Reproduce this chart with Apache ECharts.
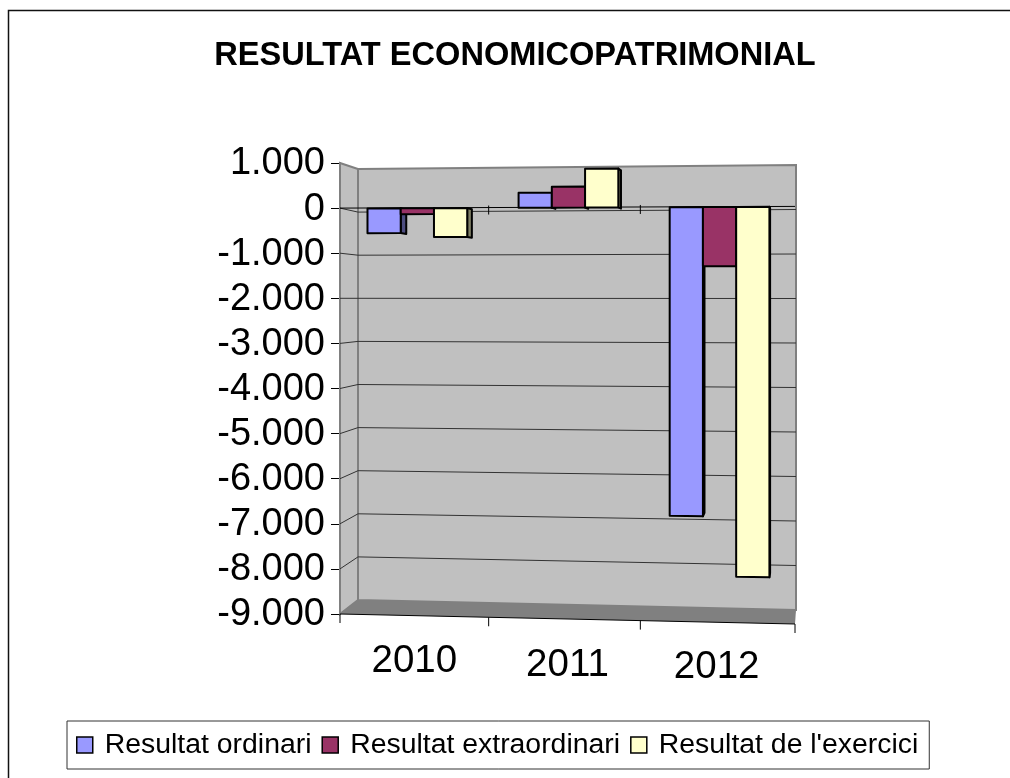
<!DOCTYPE html>
<html>
<head>
<meta charset="utf-8">
<title>Resultat economicopatrimonial</title>
<script src="https://cdn.jsdelivr.net/npm/echarts@6/dist/echarts.min.js"></script>
<style>
  html, body { margin: 0; padding: 0; background: #fff; }
  #main { width: 1010px; height: 778px; }
</style>
</head>
<body>
<div id="main"></div>
<script>
const years = ["2010", "2011", "2012"];
const resultatOrdinari = [-550, 330, -6730];
const resultatExtraordinari = [-130, 460, -1290];
const resultatExercici = [-640, 850, -8030];
const yTicks = [-8000, -7000, -6000, -5000, -4000, -3000, -2000, -1000, 0];

const lerp = (a, b, k) => a + (b - a) * k;

// the old spreadsheet chart is drawn in perspective: bend grid pixels onto it
// d = 0 is the front plane, d = 1 the back wall
function project(cs, px, py, d) {
  const f = (px - cs.x) / cs.width;
  const t = (py - cs.y) / cs.height;
  const topOff = lerp(lerp(0, -3, f), lerp(6, 2, f), d);
  const botOff = lerp(lerp(0, 10, f), lerp(-14, -4, f), d);
  return [px + d * lerp(18, 1, f), py + lerp(topOff, botOff, t)];
}

function renderWalls(params, api) {
  const cs = params.coordSys;
  const l = cs.x, r = cs.x + cs.width, top = cs.y, bot = cs.y + cs.height;
  const poly = (pts, style) => ({ type: "polygon", shape: { points: pts }, style: style });
  const line = (pts, stroke, w) => ({
    type: "polyline", shape: { points: pts },
    style: { fill: "none", stroke: stroke, lineWidth: w }
  });
  const wall = { fill: "#c0c0c0", stroke: "#808080", lineWidth: 2 };
  const children = [
    poly([project(cs, l, top, 0), project(cs, l, top, 1), project(cs, l, bot, 1), project(cs, l, bot, 0)], wall),
    poly([project(cs, l, top, 1), project(cs, r, top, 1), project(cs, r, bot, 1), project(cs, l, bot, 1)], wall),
    poly([project(cs, l, bot, 0), project(cs, l, bot, 1), project(cs, r, bot, 1), project(cs, r, bot, 0)],
      { fill: "#808080" })
  ];
  yTicks.forEach(function (v) {
    const y = api.coord([0, v])[1];
    children.push(line([project(cs, l, y, 0), project(cs, l, y, 1), project(cs, r, y, 1)], "#333", 1));
  });
  // zero line on the front plane, with the category ticks
  const y0 = api.coord([0, 0])[1];
  children.push(line([project(cs, l, y0, 0), project(cs, r, y0, 0)], "#000", 1));
  children.push(line([project(cs, l, bot, 0), project(cs, r, bot, 0)], "#000", 1));
  years.forEach(function (y, i) {
    const x = l + cs.width * (i + 1) / years.length - (i < 2 ? 3 : 0);
    const a = project(cs, x, bot, 0);
    children.push(line([a, [a[0], a[1] + 9]], "#000", 1));
    if (i < 2) {
      const b = project(cs, x, y0, 0);
      children.push(line([[b[0], b[1] - 2], [b[0], b[1] + 7]], "#000", 1));
    }
  });
  const a0 = project(cs, l, bot, 0);
  children.push(line([a0, [a0[0], a0[1] + 9]], "#000", 1));
  return { type: "group", children: children };
}

function barRenderer(slot, sideColor) {
  return function (params, api) {
    const cs = params.coordSys;
    const p = api.coord([api.value(0), api.value(1)]);
    const zero = api.coord([api.value(0), 0]);
    const w = api.size([1, 0])[0] * 0.22;
    const x0 = p[0] + (slot - 0.5) * w, x1 = x0 + w;
    const front = 0.1, back = 0.45;
    const edge = { stroke: "#000", lineWidth: 2, lineJoin: "round" };
    return {
      type: "group",
      children: [
        {
          type: "polygon",
          shape: { points: [project(cs, x1, zero[1], front), project(cs, x1, zero[1], back),
            project(cs, x1, p[1], back), project(cs, x1, p[1], front)] },
          style: Object.assign({ fill: sideColor }, edge)
        },
        {
          type: "polygon",
          shape: { points: [project(cs, x0, zero[1], front), project(cs, x1, zero[1], front),
            project(cs, x1, p[1], front), project(cs, x0, p[1], front)] },
          style: Object.assign({ fill: api.visual("color") }, edge)
        }
      ]
    };
  };
}

function toPairs(values) {
  return values.map((v, i) => [i, v]);
}

const chart = echarts.init(document.getElementById("main"));
chart.setOption({
  animation: false,
  backgroundColor: "#fff",
  textStyle: { fontFamily: "Liberation Sans" },
  // frame of the pasted chart, cut off at the right and at the bottom
  graphic: [{
    type: "polyline",
    shape: { points: [[8.5, 778], [8.5, 10.5], [1010, 10.5]] },
    style: { fill: "none", stroke: "#111", lineWidth: 1.5 }
  }],
  title: {
    text: "RESULTAT ECONOMICOPATRIMONIAL",
    left: 510, top: 35, textAlign: "center",
    textStyle: { fontFamily: "Liberation Sans", fontSize: 32.6, fontWeight: "bold", color: "#000" }
  },
  legend: {
    left: 67, top: 721,
    padding: [10, 11, 10, 9],
    itemGap: 10, itemWidth: 16, itemHeight: 16,
    borderColor: "#333", borderWidth: 1,
    itemStyle: { borderColor: "#000", borderWidth: 1.5 },
    icon: "rect",
    data: ["Resultat ordinari", "Resultat extraordinari", "Resultat de l'exercici"],
    textStyle: { fontFamily: "Liberation Sans", fontSize: 28.4, color: "#000", padding: [0, 0, 0, 7] }
  },
  grid: { left: 340, right: 215, top: 163, bottom: 164 },
  xAxis: {
    type: "category",
    data: years,
    axisLine: { show: false },
    axisTick: { show: false },
    axisLabel: {
      margin: 28,
      interval: 0,
      formatter: (v, i) => "{y" + i + "|" + v + "}",
      rich: {
        y0: { fontSize: 38.5, fontFamily: "Liberation Sans", color: "#000", padding: [0, 3, 0, 0] },
        y1: { fontSize: 38.5, fontFamily: "Liberation Sans", color: "#000", padding: [4, 0, 0, 0] },
        y2: { fontSize: 38.5, fontFamily: "Liberation Sans", color: "#000", padding: [6, 5, 0, 0] }
      }
    },
    splitLine: { show: false }
  },
  yAxis: {
    type: "value",
    min: -9000, max: 1000, interval: 1000,
    axisLine: { show: true, onZero: false, lineStyle: { color: "#000", width: 1 } },
    axisTick: { show: true, length: 9, lineStyle: { color: "#000", width: 1 } },
    axisLabel: {
      margin: 15, color: "#000",
      formatter: v => "{n|" + String(v).replace(/(\d)(\d{3})$/, "$1.$2") + "}",
      rich: { n: { fontSize: 38, fontFamily: "Liberation Sans", color: "#000", padding: [2, 0, 0, 0] } }
    },
    splitLine: { show: false }
  },
  series: [
    { type: "custom", name: "walls", silent: true, z: 1, data: [[0, 0]], renderItem: renderWalls },
    { type: "custom", name: "Resultat ordinari", z: 2, data: toPairs(resultatOrdinari),
      itemStyle: { color: "#9999ff" }, renderItem: barRenderer(-1, "#4d4d80"), encode: { x: 0, y: 1 } },
    { type: "custom", name: "Resultat extraordinari", z: 2, data: toPairs(resultatExtraordinari),
      itemStyle: { color: "#993366" }, renderItem: barRenderer(0, "#4d1a33"), encode: { x: 0, y: 1 } },
    { type: "custom", name: "Resultat de l'exercici", z: 2, data: toPairs(resultatExercici),
      itemStyle: { color: "#ffffcc" }, renderItem: barRenderer(1, "#808066"), encode: { x: 0, y: 1 } }
  ]
});
</script>
</body>
</html>
